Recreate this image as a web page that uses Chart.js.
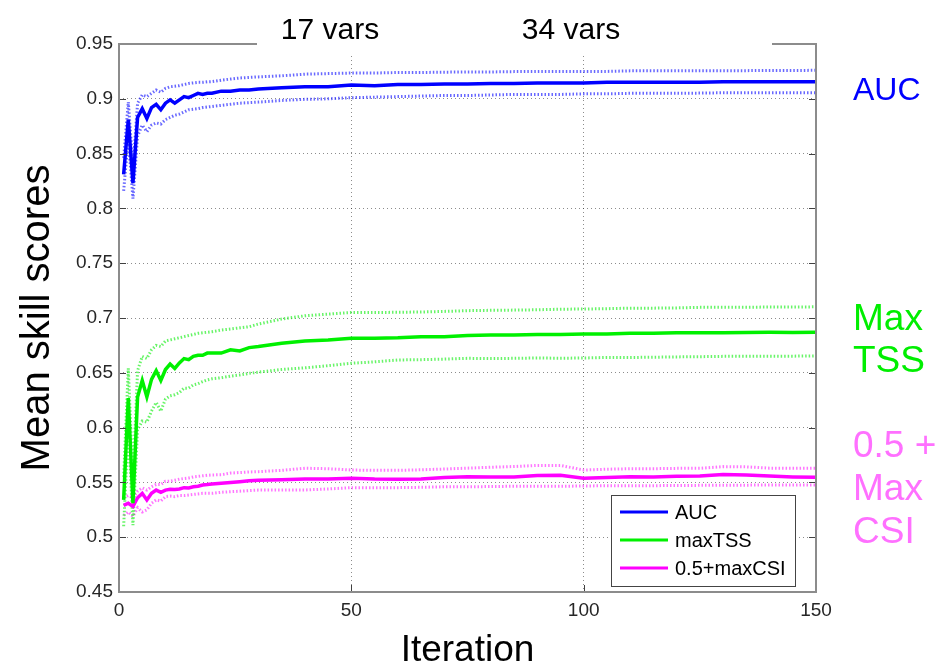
<!DOCTYPE html>
<html><head><meta charset="utf-8">
<script src="https://cdn.jsdelivr.net/npm/chart.js@4.4.0/dist/chart.umd.min.js"></script>
<style>html,body{margin:0;padding:0;background:#fff;overflow:hidden}</style>
</head><body>
<canvas id="c" width="952" height="669"></canvas>
<script>
// ---------- data ----------
const iterations = [1,2,3,4,5,6,7,8,9,10,11,12,13,14,15,16,17,18,19,20,
  22,24,26,28,30,
  35,40,45,50,55,60,65,70,75,80,85,90,95,100,105,110,115,120,125,130,135,140,145,150];

const aucMean = [0.831,0.881,0.823,0.883,0.891,0.882,0.892,0.895,0.890,0.896,0.899,0.896,0.899,0.902,0.901,0.903,0.905,0.904,0.905,0.905,
  0.907,0.907,0.908,0.908,0.909,
  0.910,0.911,0.911,0.9125,0.912,0.913,0.913,0.9135,0.9135,0.914,0.914,0.9145,0.9145,0.9145,0.915,0.915,0.915,0.915,0.915,0.9155,0.9155,0.9155,0.9155,0.9155];
const aucUpper = [0.846,0.897,0.838,0.896,0.9035,0.902,0.905,0.908,0.906,0.9095,0.911,0.9115,0.912,0.913,0.914,0.9145,0.915,0.915,0.9155,0.9157,
  0.917,0.918,0.919,0.9195,0.920,
  0.921,0.9225,0.923,0.9235,0.9235,0.924,0.924,0.9243,0.9245,0.9245,0.9248,0.925,0.925,0.925,0.925,0.9255,0.9255,0.9255,0.9257,0.9257,0.9257,0.9258,0.9258,0.926];
const aucLower = [0.816,0.864,0.809,0.866,0.876,0.870,0.876,0.878,0.877,0.881,0.883,0.885,0.886,0.888,0.890,0.8905,0.891,0.892,0.8925,0.893,
  0.894,0.895,0.896,0.8965,0.897,
  0.8985,0.8995,0.900,0.901,0.9015,0.902,0.9025,0.903,0.903,0.9035,0.904,0.904,0.904,0.9045,0.9045,0.905,0.905,0.905,0.9052,0.9055,0.9055,0.9055,0.9056,0.9056];

const tssMean = [0.534,0.627,0.531,0.628,0.643,0.628,0.644,0.652,0.643,0.653,0.658,0.654,0.659,0.663,0.662,0.665,0.666,0.666,0.668,0.668,
  0.668,0.671,0.670,0.673,0.674,
  0.677,0.679,0.680,0.6815,0.6815,0.682,0.683,0.683,0.684,0.6845,0.6845,0.685,0.685,0.6855,0.6855,0.686,0.686,0.6865,0.6866,0.6865,0.6868,0.687,0.6868,0.687];
const tssUpper = [0.555,0.654,0.553,0.652,0.665,0.663,0.671,0.675,0.674,0.679,0.680,0.681,0.682,0.683,0.684,0.685,0.686,0.6865,0.687,0.6875,
  0.689,0.690,0.691,0.692,0.6945,
  0.699,0.702,0.7035,0.705,0.705,0.7052,0.7055,0.706,0.7067,0.707,0.7072,0.7075,0.708,0.7082,0.7085,0.709,0.709,0.7092,0.7097,0.7097,0.7098,0.710,0.710,0.7102];
const tssLower = [0.510,0.600,0.511,0.598,0.606,0.605,0.615,0.623,0.615,0.626,0.629,0.630,0.632,0.636,0.636,0.639,0.640,0.642,0.6435,0.6445,
  0.6455,0.647,0.648,0.6495,0.6506,
  0.653,0.6545,0.6565,0.6587,0.660,0.6617,0.662,0.6625,0.6632,0.663,0.6632,0.6635,0.6633,0.6635,0.664,0.664,0.6642,0.6645,0.6647,0.665,0.665,0.6652,0.6652,0.6653];

const csiMean = [0.529,0.531,0.528,0.536,0.540,0.534,0.540,0.543,0.541,0.543,0.5437,0.5435,0.544,0.5452,0.545,0.546,0.5465,0.5476,0.548,0.5485,
  0.5493,0.550,0.5507,0.5515,0.552,
  0.5525,0.553,0.553,0.5537,0.553,0.5528,0.553,0.5545,0.5552,0.555,0.555,0.5562,0.5565,0.5537,0.5545,0.5552,0.555,0.5555,0.5558,0.5572,0.5568,0.5558,0.555,0.5546];
const csiUpper = [0.536,0.538,0.536,0.542,0.545,0.543,0.546,0.548,0.548,0.551,0.551,0.552,0.553,0.5535,0.554,0.555,0.5555,0.556,0.5565,0.5568,
  0.557,0.5585,0.559,0.5595,0.5598,
  0.561,0.5629,0.5625,0.5613,0.561,0.561,0.5615,0.5622,0.563,0.5638,0.5645,0.5655,0.5655,0.5613,0.562,0.5625,0.5625,0.5628,0.5629,0.5644,0.5642,0.563,0.5628,0.5629];
const csiLower = [0.520,0.523,0.519,0.527,0.523,0.525,0.531,0.534,0.533,0.537,0.5375,0.537,0.538,0.538,0.5385,0.539,0.5395,0.540,0.540,0.540,
  0.541,0.5415,0.542,0.5425,0.543,
  0.543,0.5431,0.544,0.5452,0.545,0.5452,0.5455,0.546,0.546,0.5462,0.5465,0.5465,0.5465,0.5467,0.547,0.547,0.547,0.5472,0.5473,0.5475,0.5475,0.5476,0.5476,0.5476];

const seriesLabels = ['AUC', 'maxTSS', '0.5+maxCSI'];
const xTickValues = [0, 50, 100, 150];
const xTickLabels = ['0', '50', '100', '150'];
const yTickValues = [0.45, 0.5, 0.55, 0.6, 0.65, 0.7, 0.75, 0.8, 0.85, 0.9, 0.95];
const yTickLabels = ['0.45', '0.5', '0.55', '0.6', '0.65', '0.7', '0.75', '0.8', '0.85', '0.9', '0.95'];
const topLabels = ['17 vars', '34 vars'];
const sideLabelsAUC = ['AUC'];
const sideLabelsTSS = ['Max', 'TSS'];
const sideLabelsCSI = ['0.5 +', 'Max', 'CSI'];
const xTitle = 'Iteration';
const yTitle = 'Mean skill scores';

// ---------- styling ----------
const FONT = '"Liberation Sans", Arial, Helvetica, sans-serif';
const BLUE = '#0000ff', GREEN = '#00f000', MAGENTA = '#ff00ff';
const pts = arr => arr.map((v, i) => ({x: iterations[i], y: v}));

function mainDs(label, arr, color) {
  return {label, data: pts(arr), borderColor: color, backgroundColor: color,
    borderWidth: 3.5, pointRadius: 0, tension: 0, order: 0};
}
function bandDs(label, arr, color) {
  return {label, data: pts(arr), borderColor: color, backgroundColor: color,
    borderWidth: 3, borderDash: [1.5, 2], pointRadius: 0, tension: 0, order: 1};
}

const datasets = [
  mainDs(seriesLabels[0], aucMean, BLUE),
  mainDs(seriesLabels[1], tssMean, GREEN),
  mainDs(seriesLabels[2], csiMean, MAGENTA),
  bandDs('AUC upper', aucUpper, 'rgba(40,40,255,0.7)'),
  bandDs('AUC lower', aucLower, 'rgba(40,40,255,0.7)'),
  bandDs('maxTSS upper', tssUpper, 'rgba(40,240,40,0.7)'),
  bandDs('maxTSS lower', tssLower, 'rgba(40,240,40,0.7)'),
  bandDs('0.5+maxCSI upper', csiUpper, 'rgba(255,60,255,0.7)'),
  bandDs('0.5+maxCSI lower', csiLower, 'rgba(255,60,255,0.7)')
];

const decor = {
  id: 'decor',
  afterDraw(chart) {
    const {ctx, chartArea: a, scales: {x, y}} = chart;
    ctx.save();
    // inward ticks on all four sides
    ctx.strokeStyle = '#404040'; ctx.lineWidth = 1;
    yTickValues.forEach(v => {
      const py = Math.round(y.getPixelForValue(v)) + 0.5;
      ctx.beginPath();
      ctx.moveTo(a.left, py); ctx.lineTo(a.left + 7, py);
      ctx.moveTo(a.right, py); ctx.lineTo(a.right - 7, py);
      ctx.stroke();
    });
    xTickValues.forEach(v => {
      const px = Math.round(x.getPixelForValue(v)) + 0.5;
      ctx.beginPath();
      ctx.moveTo(px, a.bottom); ctx.lineTo(px, a.bottom - 7);
      ctx.moveTo(px, a.top); ctx.lineTo(px, a.top + 7);
      ctx.stroke();
    });
    // axes box
    ctx.strokeStyle = '#8c8c8c'; ctx.lineWidth = 2;
    ctx.strokeRect(a.left, a.top, a.width, a.height);
    // white band behind top labels
    ctx.fillStyle = '#ffffff';
    ctx.fillRect(257, 0, 515, 55);
    ctx.fillStyle = '#000000';
    ctx.font = '30px ' + FONT;
    ctx.textAlign = 'center'; ctx.textBaseline = 'alphabetic';
    ctx.fillText(topLabels[0], 330, 39);
    ctx.fillText(topLabels[1], 571, 39);
    // side labels
    ctx.textAlign = 'left';
    ctx.font = '32px ' + FONT; ctx.fillStyle = BLUE;
    sideLabelsAUC.forEach((t, i) => ctx.fillText(t, 853, 100 + i * 42));
    ctx.font = '37px ' + FONT; ctx.fillStyle = '#00ee00';
    sideLabelsTSS.forEach((t, i) => ctx.fillText(t, 853, 330 + i * 42));
    ctx.fillStyle = '#ff70ff';
    sideLabelsCSI.forEach((t, i) => ctx.fillText(t, 853, 457 + i * 43));
    // legend box
    const lx = 611, ly = 495, lw = 184, lh = 91;
    ctx.fillStyle = '#ffffff'; ctx.fillRect(lx, ly, lw, lh);
    ctx.strokeStyle = '#444444'; ctx.lineWidth = 1;
    ctx.strokeRect(lx + 0.5, ly + 0.5, lw, lh);
    ctx.font = '20px ' + FONT; ctx.textBaseline = 'middle';
    [0, 1, 2].forEach(i => {
      const ds = chart.data.datasets[i];
      const yy = 512 + i * 28;
      ctx.strokeStyle = ds.borderColor; ctx.lineWidth = 3;
      ctx.beginPath(); ctx.moveTo(620, yy); ctx.lineTo(668, yy); ctx.stroke();
      ctx.fillStyle = '#000000';
      ctx.fillText(ds.label, 675, yy + 1);
    });
    ctx.restore();
  }
};

new Chart(document.getElementById('c'), {
  type: 'line',
  data: {datasets},
  options: {
    responsive: false,
    animation: false,
    devicePixelRatio: 1,
    layout: {padding: {top: 44, right: 136, left: 0, bottom: 0}},
    plugins: {legend: {display: false}, tooltip: {enabled: false}},
    scales: {
      x: {
        type: 'linear', min: 0, max: 150,
        afterBuildTicks: s => { s.ticks = xTickValues.map(v => ({value: v})); },
        afterFit: s => { s.height = 77; },
        ticks: {callback: (v) => xTickLabels[xTickValues.indexOf(v)] ?? '', color: '#262626',
          font: {size: 19, family: FONT}, padding: 7, maxRotation: 0},
        grid: {color: 'rgba(0,0,0,0.45)', lineWidth: 1, drawTicks: false},
        border: {display: false, dash: [1, 3]},
        title: {display: true, text: xTitle, color: '#000', font: {size: 37, family: FONT, lineHeight: 1},
          padding: {top: 0, bottom: 0}}
      },
      y: {
        type: 'linear', min: 0.45, max: 0.95,
        afterBuildTicks: s => { s.ticks = yTickValues.map(v => ({value: v})); },
        afterFit: s => { s.width = 119; },
        ticks: {callback: (v) => { const i = yTickValues.findIndex(t => Math.abs(t - v) < 1e-9); return i >= 0 ? yTickLabels[i] : ''; },
          color: '#262626', font: {size: 19, family: FONT}, padding: 6},
        grid: {color: 'rgba(0,0,0,0.45)', lineWidth: 1, drawTicks: false},
        border: {display: false, dash: [1, 3]},
        title: {display: true, text: yTitle, color: '#000', font: {size: 40, family: FONT, lineHeight: 1},
          padding: {top: 18, bottom: 0}}
      }
    }
  },
  plugins: [decor]
});
</script>
</body></html>
